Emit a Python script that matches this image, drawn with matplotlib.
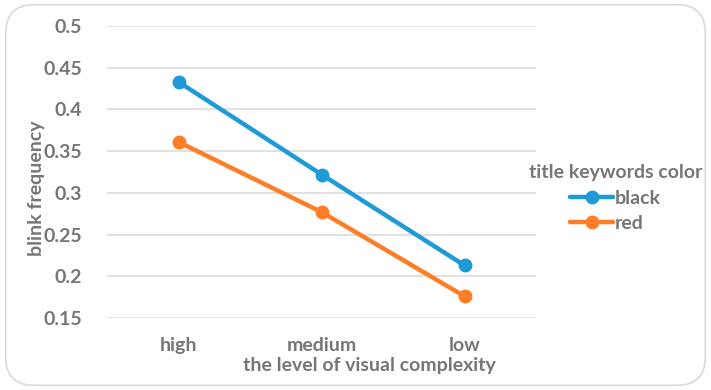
import matplotlib
matplotlib.use("Agg")
import matplotlib.pyplot as plt
from matplotlib.patches import FancyBboxPatch

categories = ["high", "medium", "low"]
black_vals = [0.433, 0.322, 0.213]
red_vals = [0.361, 0.277, 0.176]
yticks = [0.15, 0.2, 0.25, 0.3, 0.35, 0.4, 0.45, 0.5]
ytick_labels = ["0.15", "0.2", "0.25", "0.3", "0.35", "0.4", "0.45", "0.5"]

plt.rcParams['font.family'] = ['Lato', 'DejaVu Sans']
txt = '#767676'
fs = 14

fig = plt.figure(figsize=(7.11, 3.90), dpi=100)
border = FancyBboxPatch((0.008, 0.012), 0.984, 0.976,
                        boxstyle="round,pad=0,rounding_size=0.04",
                        transform=fig.transFigure, fill=False,
                        edgecolor='#d9d9d9', linewidth=1.2, mutation_aspect=711/390)
fig.patches.append(border)

ax = fig.add_axes([0.1505, 0.1846, 0.6035, 0.7487])
x = list(range(len(categories)))
ax.plot(x, black_vals, color='#1e9ad8', lw=3.2, marker='o', ms=9, label='black',
        solid_capstyle='round')
ax.plot(x, red_vals, color='#fd7e27', lw=3.2, marker='o', ms=9, label='red',
        solid_capstyle='round')

ax.set_xlim(-0.5, 2.5)
ax.set_ylim(0.15, 0.5)
ax.set_yticks(yticks)
ax.set_yticklabels(ytick_labels)
ax.set_xticks(x)
ax.set_xticklabels(categories)
ax.grid(axis='y', color='#dcdcdc', lw=1.2)
ax.set_axisbelow(True)
for s in ax.spines.values():
    s.set_visible(False)
ax.tick_params(length=0, labelsize=fs, labelcolor=txt)
ax.tick_params(axis='x', pad=14)
ax.tick_params(axis='y', pad=18)
for lbl in ax.get_xticklabels() + ax.get_yticklabels():
    lbl.set_fontweight('bold')

ax.set_xlabel("the level of visual complexity", fontsize=fs, color=txt,
              fontweight='bold')
ax.xaxis.set_label_coords(0.611, -0.135)
ax.set_ylabel("blink frequency", fontsize=fs, color=txt, fontweight='bold')
ax.yaxis.set_label_coords(-0.145, 0.445)

leg = fig.legend(title="title keywords color", loc='upper left',
                 bbox_to_anchor=(0.733, 0.6), frameon=False, fontsize=fs,
                 title_fontsize=fs, handlelength=2.2, handletextpad=0.1,
                 labelspacing=0.45, borderaxespad=0.0)
leg._legend_box.align = "center"
leg.get_title().set_color(txt)
leg.get_title().set_fontweight('bold')
for t in leg.get_texts():
    t.set_color(txt)
    t.set_fontweight('bold')

fig.savefig("out.png", dpi=100)
